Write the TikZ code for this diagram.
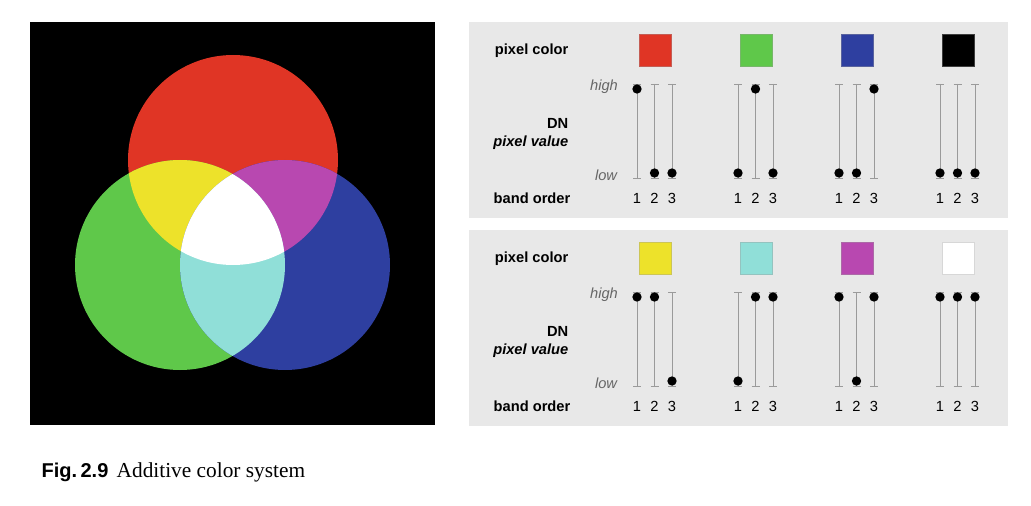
\documentclass[tikz,border=0pt]{standalone}
\usepackage{fontspec}
\setmainfont{Liberation Serif}
\setsansfont{Liberation Sans}
\usetikzlibrary{calc}
\definecolor{cRed}{HTML}{E03525}
\definecolor{cGreen}{HTML}{5FC84A}
\definecolor{cBlue}{HTML}{2E3FA0}
\definecolor{cYellow}{HTML}{EDE22A}
\definecolor{cCyan}{HTML}{90DFD8}
\definecolor{cMagenta}{HTML}{B848B0}
\definecolor{panelgray}{HTML}{E8E8E8}
\definecolor{linegray}{HTML}{9A9A9A}

\begin{document}
\begin{tikzpicture}
	[
	 x = 0.75pt,
	 y = -0.75pt,
	 lbl/.style  = {font=\sffamily\bfseries\fontsize{11}{12}\selectfont, anchor=east},
	 lvl/.style  = {font=\sffamily\itshape\fontsize{11}{12}\selectfont, text=gray!80!black},
	 num/.style  = {font=\sffamily\fontsize{11}{12}\selectfont},
	 swatch/.style = {minimum size=24pt, inner sep=0pt},
	 bar/.style  = {draw=linegray, line width=0.6pt},
	 dot/.style  = {fill=black, circle, inner sep=0pt, minimum size=7pt}
	]
	\useasboundingbox (0,0) rectangle (1031,506);

	% additive circles
	\fill[black] (30,22) rectangle (435,425);
	\def\CR{(233,160) circle (105)}
	\def\CG{(180,265) circle (105)}
	\def\CB{(285,265) circle (105)}
	\fill[cRed] \CR;
	\fill[cGreen] \CG;
	\fill[cBlue] \CB;
	\begin{scope} \clip \CR; \fill[cYellow] \CG; \end{scope}
	\begin{scope} \clip \CR; \fill[cMagenta] \CB; \end{scope}
	\begin{scope} \clip \CG; \fill[cCyan] \CB; \end{scope}
	\begin{scope} \clip \CR; \clip \CG; \fill[white] \CB; \end{scope}

	% panels: y offset, then colour/H-L list per group
	\foreach \p/\dy/\groups in {top/0/{cRed/1/0/0,cGreen/0/1/0,cBlue/0/0/1,black/0/0/0},
	                            bot/208/{cYellow/1/1/0,cCyan/0/1/1,cMagenta/1/0/1,white/1/1/1}}{
		\fill[panelgray] (469,22+\dy) rectangle (1008,218+\dy);
		\node[lbl] (pc-\p) at (573,51+\dy) {pixel color};
		\node[lbl] (dn-\p) at (573,123+\dy) {DN};
		\node[lbl, font=\sffamily\bfseries\itshape\fontsize{11}{12}\selectfont] (pv-\p) at (573,143+\dy) {pixel value};
		\node[lbl] (bo-\p) at (575,198+\dy) {band order};
		\node[lvl] (hi-\p) at (604,87+\dy) {high};
		\node[lvl] (lo-\p) at (606,175+\dy) {low};
		\foreach \c/\a/\b/\d [count=\g from 0] in \groups{
			\pgfmathsetmacro{\gx}{637+101*\g}
			\node[swatch, fill=\c, draw=linegray!40!\c, line width=0.4pt] (sw-\p-\g) at (\gx+18,50+\dy) {};
			\foreach \s [count=\k from 0] in {\a,\b,\d}{
				\pgfmathsetmacro{\bx}{\gx+17.5*\k}
				\draw[bar] (\bx-4,84+\dy) -- (\bx+4,84+\dy) (\bx,84+\dy) -- (\bx,178+\dy) (\bx-4,178+\dy) -- (\bx+4,178+\dy);
				\ifnum\s=1 \node[dot] (d-\p-\g-\k) at (\bx,89+\dy) {};
				\else \node[dot] (d-\p-\g-\k) at (\bx,173+\dy) {}; \fi
				\node[num] (n-\p-\g-\k) at (\bx,198+\dy) {\the\numexpr\k+1\relax};
			}
		}
	}

	% caption
	\node[anchor=west, font=\sffamily\bfseries\fontsize{15}{17}\selectfont] (fig) at (37,472) {Fig.\,2.9};
	\node[anchor=west, font=\fontsize{16}{18}\selectfont] (cap) at (112,472) {Additive color system};
\end{tikzpicture}
\end{document}
